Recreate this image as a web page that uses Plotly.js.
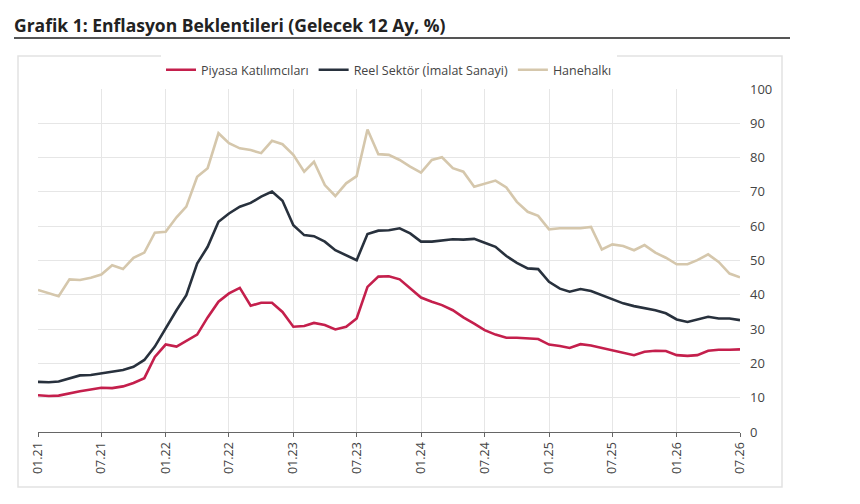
<!DOCTYPE html>
<html>
<head>
<meta charset="utf-8">
<script src="https://cdn.plot.ly/plotly-3.0.1.min.js"></script>
<style>html,body{margin:0;padding:0;background:#fff;}#chart{width:860px;height:504px;}</style>
</head>
<body>
<div id="chart"></div>
<script>
const months = [
"2021-01","2021-02","2021-03","2021-04","2021-05","2021-06","2021-07","2021-08","2021-09","2021-10","2021-11","2021-12",
"2022-01","2022-02","2022-03","2022-04","2022-05","2022-06","2022-07","2022-08","2022-09","2022-10","2022-11","2022-12",
"2023-01","2023-02","2023-03","2023-04","2023-05","2023-06","2023-07","2023-08","2023-09","2023-10","2023-11","2023-12",
"2024-01","2024-02","2024-03","2024-04","2024-05","2024-06","2024-07","2024-08","2024-09","2024-10","2024-11","2024-12",
"2025-01","2025-02","2025-03","2025-04","2025-05","2025-06","2025-07","2025-08","2025-09","2025-10","2025-11","2025-12",
"2026-01","2026-02","2026-03","2026-04","2026-05","2026-06","2026-07"];

const seriesNames = ["Piyasa Katılımcıları", "Reel Sektör (İmalat Sanayi)", "Hanehalkı"];

const piyasa = [10.7,10.5,10.6,11.3,11.9,12.4,12.9,12.8,13.3,14.3,15.7,21.9,
25.5,24.9,26.6,28.4,33.4,38.0,40.4,42.0,36.8,37.7,37.7,35.0,
30.7,30.9,31.8,31.2,29.9,30.7,33.1,42.3,45.3,45.4,44.5,41.8,
39.2,38.0,37.0,35.5,33.4,31.6,29.7,28.4,27.5,27.5,27.3,27.1,
25.5,25.1,24.5,25.6,25.2,24.5,23.7,22.9,22.4,23.4,23.7,23.6,
22.4,22.2,22.4,23.7,24.0,24.0,24.1];

const reel = [14.6,14.5,14.7,15.7,16.5,16.6,17.1,17.4,18.1,19.0,21.0,24.9,
30.3,35.5,39.9,49.1,54.0,61.3,63.7,65.7,66.8,68.6,70.1,67.4,
60.3,57.4,57.1,55.5,53.0,51.6,50.1,57.7,58.7,58.8,59.4,57.9,
55.5,55.5,55.8,56.2,56.1,56.3,55.2,54.0,51.3,49.3,47.7,47.5,
43.8,41.8,40.9,41.7,41.1,39.9,38.9,37.5,36.7,36.2,35.5,34.6,
32.8,32.1,32.9,33.6,33.1,33.1,32.6];

const hane = [41.4,40.4,39.6,44.5,44.3,45.0,45.9,48.6,47.5,50.8,52.3,58.1,
58.4,62.6,65.7,74.4,76.9,87.1,84.2,82.7,82.2,81.3,84.9,83.9,
80.8,75.9,78.8,72.0,68.8,72.5,74.6,88.2,81.0,80.8,79.3,77.4,
75.6,79.3,80.1,76.9,75.9,71.5,72.3,73.3,71.3,67.1,64.2,63.0,
59.1,59.4,59.4,59.4,59.8,53.2,54.7,54.2,53.0,54.5,52.3,50.8,
48.9,48.9,50.1,51.8,49.6,46.2,45.1];

const colors = ["#c41f4c", "#28313d", "#d5c7ac"];

const traces = [piyasa, reel, hane].map((vals, i) => ({
  type: "scatter", mode: "lines", x: months, y: vals, name: seriesNames[i],
  line: {color: colors[i], width: 2.6}
}));

const layout = {
  width: 860, height: 504,
  margin: {l: 38, r: 120, t: 89, b: 72},
  paper_bgcolor: "#fff", plot_bgcolor: "#fff",
  font: {family: "Open Sans, sans-serif", color: "#444", size: 12},
  title: {
    text: "<b>Grafik 1: Enflasyon Beklentileri (Gelecek 12 Ay, %)</b>",
    font: {family: "Open Sans, sans-serif", size: 17.5, color: "#222"},
    xref: "container", yref: "container", x: 14/860, xanchor: "left",
    y: 1 - 26/504, yanchor: "middle"
  },
  showlegend: true,
  legend: {
    orientation: "h", xref: "paper", yref: "paper",
    x: 0.5, xanchor: "center", y: 1.055, yanchor: "middle",
    font: {size: 12.5, color: "#444"}, itemwidth: 30, tracegroupgap: 0
  },
  xaxis: {
    type: "date", range: ["2021-01-01", "2026-07-01"],
    tick0: "2021-01-01", dtick: "M6", tickformat: "%m.%y",
    tickangle: -90, showgrid: true, gridcolor: "#e6e6e6", gridwidth: 1,
    showline: true, linecolor: "#666", linewidth: 1.2,
    ticks: "outside", ticklen: 4, tickcolor: "#666",
    tickfont: {size: 12.5, color: "#444"}, zeroline: false
  },
  yaxis: {
    side: "right", range: [0, 100], dtick: 10,
    showgrid: true, gridcolor: "#e6e6e6", gridwidth: 1,
    zeroline: false, showline: false, ticks: "", ticklabelstandoff: 9,
    tickfont: {size: 13, color: "#444"}
  },
  shapes: [
    {type: "line", xref: "paper", yref: "paper",
     x0: (14-38)/702, x1: (790-38)/702, y0: (432-38)/343, y1: (432-38)/343,
     line: {color: "#555", width: 2.2}},
    {type: "rect", xref: "paper", yref: "paper", layer: "below",
     x0: (18-38)/702, x1: (782-38)/702, y0: (432-487)/343, y1: (432-56)/343,
     line: {color: "#e2e2e2", width: 1.5}}
  ]
};

Plotly.newPlot("chart", traces, layout, {displayModeBar: false, staticPlot: true});
</script>
</body>
</html>
